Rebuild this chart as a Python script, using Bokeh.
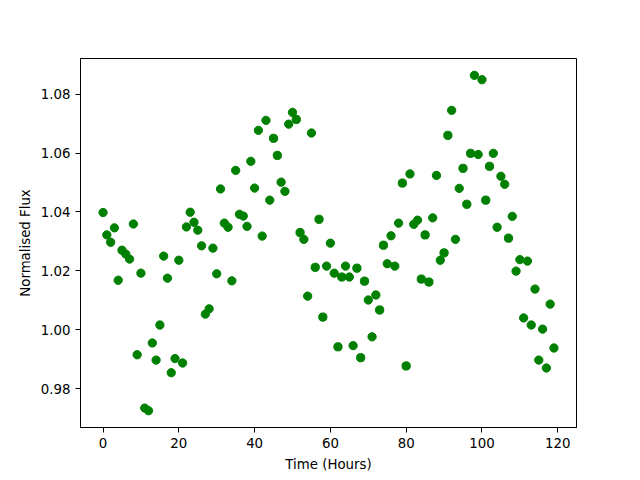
from bokeh.plotting import figure
from bokeh.models import FixedTicker, PrintfTickFormatter, Range1d
from bokeh.embed import file_html
from bokeh.resources import INLINE

hours = list(range(120))
flux = [
    1.0398, 1.0322, 1.0297, 1.0346, 1.0168, 1.0270, 1.0257, 1.0240, 1.0359, 0.9915,
    1.0192, 0.9734, 0.9725, 0.9955, 0.9897, 1.0016, 1.0250, 1.0175, 0.9854, 0.9902,
    1.0236, 0.9887, 1.0349, 1.0399, 1.0365, 1.0338, 1.0285, 1.0053, 1.0071, 1.0277,
    1.0190, 1.0478, 1.0362, 1.0348, 1.0166, 1.0541, 1.0392, 1.0386, 1.0351, 1.0572,
    1.0481, 1.0677, 1.0318, 1.0711, 1.0440, 1.0650, 1.0592, 1.0501, 1.0470, 1.0698,
    1.0738, 1.0714, 1.0330, 1.0307, 1.0114, 1.0668, 1.0212, 1.0375, 1.0043, 1.0216,
    1.0294, 1.0192, 0.9942, 1.0179, 1.0216, 1.0179, 0.9946, 1.0209, 0.9905, 1.0165,
    1.0101, 0.9976, 1.0118, 1.0067, 1.0287, 1.0224, 1.0319, 1.0216, 1.0362, 1.0498,
    0.9877, 1.0529, 1.0358, 1.0372, 1.0172, 1.0322, 1.0162, 1.0380, 1.0524, 1.0236,
    1.0261, 1.0660, 1.0745, 1.0307, 1.0480, 1.0548, 1.0426, 1.0599, 1.0864, 1.0595,
    1.0849, 1.0440, 1.0555, 1.0599, 1.0348, 1.0521, 1.0494, 1.0311, 1.0385, 1.0199,
    1.0238, 1.0040, 1.0233, 1.0016, 1.0138, 0.9897, 1.0002, 0.9870, 1.0087, 0.9938,
]
x_ticks = [0, 20, 40, 60, 80, 100, 120]
y_ticks = [0.98, 1.00, 1.02, 1.04, 1.06, 1.08]

p = figure(width=640, height=480, output_backend="svg", toolbar_location=None,
           x_range=Range1d(-5.95, 124.95), y_range=Range1d(0.9668, 1.0921),
           min_border_left=80, min_border_right=64, min_border_top=58, min_border_bottom=53)
p.background_fill_color = "white"
p.border_fill_color = "white"
p.outline_line_color = "black"
p.outline_line_width = 1
p.grid.visible = False

p.scatter(hours, flux, size=8.3, color="#008000", line_color="#008000")

for ax in (p.xaxis[0], p.yaxis[0]):
    ax.major_label_text_font = "DejaVu Sans"
    ax.major_label_text_font_size = "10pt"
    ax.major_label_text_color = "black"
    ax.axis_label_text_font = "DejaVu Sans"
    ax.axis_label_text_font_size = "10pt"
    ax.axis_label_text_font_style = "normal"
    ax.axis_label_text_color = "black"
    ax.minor_tick_line_color = None
    ax.major_tick_in = 0
    ax.major_tick_out = 5
    ax.major_tick_line_color = "black"
    ax.axis_line_color = "black"
    ax.major_label_standoff = 5

p.xaxis.ticker = FixedTicker(ticks=x_ticks)
p.yaxis.ticker = FixedTicker(ticks=y_ticks)
p.yaxis.formatter = PrintfTickFormatter(format="%.2f")
p.xaxis.axis_label = "Time (Hours)"
p.yaxis.axis_label = "Normalised Flux"
p.xaxis.axis_label_standoff = 6
p.yaxis.axis_label_standoff = 5

open("out.html", "w").write(file_html(p, INLINE))
